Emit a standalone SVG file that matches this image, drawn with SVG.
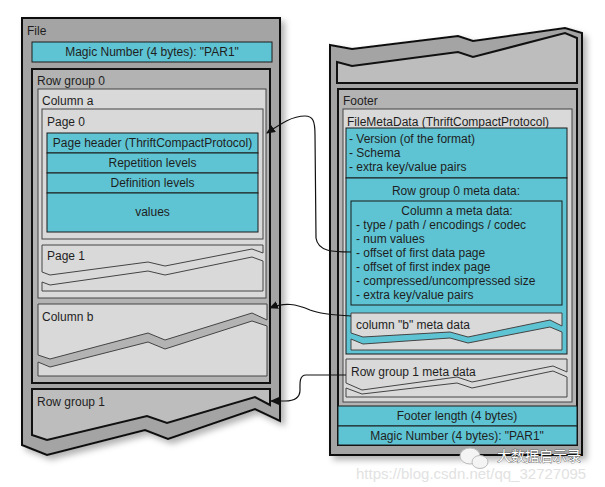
<svg xmlns="http://www.w3.org/2000/svg" width="605" height="487" viewBox="0 0 605 487">
<style>
text{font-family:"Liberation Sans",Arial,sans-serif;font-size:12px;fill:#1e1e1e}
.c{text-anchor:middle}
.outer{fill:#a4a4a4;stroke:#111;stroke-width:2}
.grp{fill:#b3b3b3;stroke:#111;stroke-width:2}
.mid{fill:#bdbdbd;stroke:#111;stroke-width:2}
.lt{fill:#d9d9d9;stroke:#444;stroke-width:1}
.teal{fill:#5ec4d3;stroke:#1a1a1a;stroke-width:1}
.conn{fill:none;stroke:#111;stroke-width:1.2}
.wm{font-size:15px;fill:#e2e2e2}
</style>
<defs>
<filter id="sh" x="-10%" y="-10%" width="125%" height="125%">
<feDropShadow dx="4" dy="4" stdDeviation="3" flood-color="#000" flood-opacity="0.3"/>
</filter>
<marker id="ah" markerWidth="9" markerHeight="8" refX="8" refY="4" orient="auto" markerUnits="userSpaceOnUse">
<path d="M0,0 L9,4 L0,8 Z" fill="#111"/>
</marker>
</defs>
<rect width="605" height="487" fill="#fff"/>

<g id="file">
<polygon class="outer" filter="url(#sh)" points="22,18 280,18 280,421 255,409 168,439 145,430 47,455 22,445"/>
<text x="27" y="35">File</text>
</g>
<g id="magic-left">
<rect class="teal" x="32" y="42" width="240" height="20"/>
<text class="c" x="152" y="56">Magic Number (4 bytes): "PAR1"</text>
</g>
<g id="row-group-0">
<rect class="grp" x="32" y="69" width="238" height="314"/>
<text x="37" y="85">Row group 0</text>
</g>
<g id="column-a">
<rect class="lt" x="38" y="89" width="228" height="209"/>
<text x="42" y="105">Column a</text>
</g>
<g id="page-0">
<rect class="lt" x="42" y="109" width="221" height="130" stroke="#222"/>
<text x="47" y="126">Page 0</text>
<rect class="teal" x="47" y="133" width="211" height="20"/>
<text class="c" x="152.5" y="147">Page header (ThriftCompactProtocol)</text>
<rect class="teal" x="47" y="153" width="211" height="20"/>
<text class="c" x="152.5" y="167">Repetition levels</text>
<rect class="teal" x="47" y="173" width="211" height="20"/>
<text class="c" x="152.5" y="187">Definition levels</text>
<rect class="teal" x="47" y="193" width="211" height="39"/>
<text class="c" x="152.5" y="216">values</text>
</g>
<g id="page-1">
<polygon class="lt" points="42,245 263,245 263,253 252,249 165,266 148,262 50,275 42,272"/>
<polygon class="lt" points="42,282 50,285 148,271 165,275 252,257 263,261 263,291 42,291"/>
<text x="47" y="260">Page 1</text>
</g>
<g id="column-b">
<polygon class="lt" points="38,304 267,304 267,320 252,313 165,340 148,333 50,359 38,355"/>
<polygon class="lt" points="38,362 50,367 148,342 165,349 252,321 267,326 267,376 38,376"/>
<text x="42" y="321">Column b</text>
</g>
<g id="row-group-1">
<polygon class="mid" points="32,389 270,389 270,405 255,397 167,423 147,416 47,440 32,435"/>
<text x="37" y="406">Row group 1</text>
</g>

<g id="footer-panel">
<polygon class="outer" filter="url(#sh)" points="330,45 352,49 458,36 473,41 565,28 582,33 582,455 330,455"/>
<polygon class="mid" points="337,62 352,66 458,52 473,57 565,33 577,38 577,83 337,83"/>
</g>
<g id="footer">
<rect class="grp" x="338" y="89" width="239" height="356"/>
<text x="343" y="105">Footer</text>
</g>
<g id="filemetadata">
<rect class="lt" x="343" y="109" width="229" height="293"/>
<text x="347" y="126">FileMetaData (ThriftCompactProtocol)</text>
<rect class="teal" x="346" y="128" width="221" height="50"/>
<text x="349" y="143">- Version (of the format)</text>
<text x="349" y="157">- Schema</text>
<text x="349" y="171">- extra key/value pairs</text>
</g>
<g id="row-group-0-meta">
<rect class="teal" x="346" y="178" width="221" height="176"/>
<text class="c" x="456" y="195">Row group 0 meta data:</text>
</g>
<g id="column-a-meta">
<rect class="teal" x="351" y="201" width="211" height="104"/>
<text class="c" x="457" y="214.5">Column a meta data:</text>
<text x="356" y="228.5">- type / path / encodings / codec</text>
<text x="356" y="243">- num values</text>
<text x="356" y="257">- offset of first data page</text>
<text x="356" y="271">- offset of first index page</text>
<text x="356" y="285">- compressed/uncompressed size</text>
<text x="356" y="299">- extra key/value pairs</text>
</g>
<g id="column-b-meta">
<polygon class="lt" points="351,313 562,313 562,326 550,320 468,337 450,332 363,337 351,333"/>
<polygon class="lt" points="351,339 363,344 450,338 468,343 550,327 562,332 562,350 351,350"/>
<text x="356" y="329">column "b" meta data</text>
</g>
<g id="row-group-1-meta">
<polygon class="lt" points="346,359 567,359 567,372 553,366 472,382 457,377 362,390 346,383"/>
<polygon class="lt" points="346,388 362,394 457,383 472,388 553,371 567,377 567,397 346,397"/>
<text x="351" y="376">Row group 1 meta data</text>
</g>
<g id="footer-length">
<rect class="teal" x="338" y="406" width="239" height="20"/>
<text class="c" x="457" y="420">Footer length (4 bytes)</text>
</g>
<g id="magic-right">
<rect class="teal" x="338" y="426" width="239" height="19"/>
<text class="c" x="457" y="440">Magic Number (4 bytes): "PAR1"</text>
</g>

<g id="connectors">
<path class="conn" marker-end="url(#ah)" d="M351,252 C334,252 318,252 316,238 L315,135 C315,121 313,116 305,116 C291,116 279,125 267,133"/>
<path class="conn" marker-end="url(#ah)" d="M351,316 C332,315 320,314 310,310 C296,304 285,302 270,308"/>
<path class="conn" marker-end="url(#ah)" d="M346,375 L306,375 C299,375 300,384 300,390 C300,398 295,401 285,401 L271,401"/>
</g>

<g id="watermark">
<text class="wm" x="356" y="479">https://blog.csdn.net/qq_32727095</text>
<ellipse cx="470" cy="456" rx="10" ry="8" fill="#f4f4f4" stroke="#bbb"/>
<ellipse cx="480" cy="462" rx="8" ry="6.5" fill="#f4f4f4" stroke="#bbb"/>
<text x="497" y="461" style="font-family:'Noto Sans CJK SC',sans-serif;font-size:14px;fill:#fff;stroke:#333;stroke-width:0.6;paint-order:stroke">大数据启示录</text>
</g>
</svg>
